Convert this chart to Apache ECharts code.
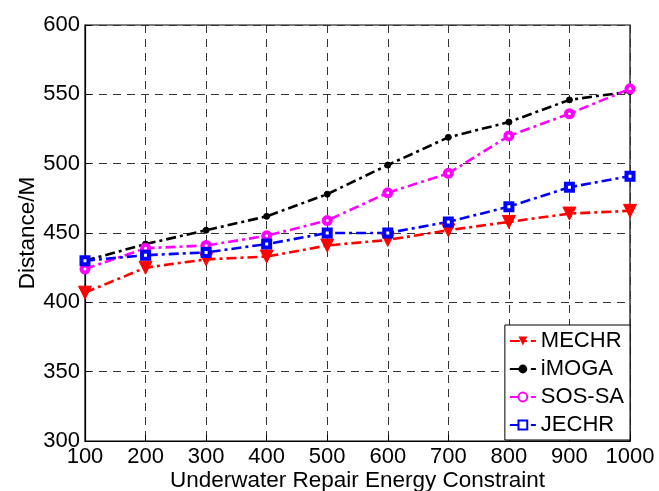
<!DOCTYPE html>
<html><head><meta charset="utf-8">
<script src="https://cdn.jsdelivr.net/npm/echarts@6/dist/echarts.min.js"></script>
<style>html,body{margin:0;padding:0;background:#fff}#c{width:659px;height:491px}</style>
</head><body><div id="c"></div>
<script>
const xValues = [100,200,300,400,500,600,700,800,900,1000];
const mechr = [407,425,431,433,441,445,452,458,464,466];
const imoga = [430,442,452,462,478,499,519,530,546,552];
const sossa = [424,439,441,448,459,479,493,520,536,554];
const jechr = [430,434,436,442,450,450,458,469,483,491];
const yTicks = {min:300, max:600, step:50};
const xTicks = {min:100, max:1000, step:100};

const font = 'Liberation Sans, Arial, sans-serif';
const pair = arr => arr.map((v,i)=>[xValues[i], v]);
const dashDot = [10,4,3,4];

function series(name, data, color, symbol, size, extra){
  return Object.assign({
    name, type:'line', data:pair(data), symbol, symbolSize:size,
    lineStyle:{color, width:2.6, type:dashDot},
    itemStyle:{color, borderColor:color},
    emphasis:{disabled:true}, animation:false, z:3
  }, extra||{});
}

const chart = echarts.init(document.getElementById('c'), null, {renderer:'canvas'});
chart.setOption({
  animation:false,
  backgroundColor:'#fff',
  grid:{left:85, right:29, top:25, bottom:50, containLabel:false, outerBoundsMode:'none', show:true, borderColor:'#000', borderWidth:1.2, backgroundColor:'transparent'},
  xAxis:{
    type:'value', min:xTicks.min, max:xTicks.max, interval:xTicks.step,
    name:'Underwater Repair Energy Constraint', nameLocation:'middle', nameGap:28, nameMoveOverlap:false,
    nameTextStyle:{fontFamily:font, fontSize:22.5, color:'#000'},
    axisLine:{show:true, lineStyle:{color:'#000', width:1.2}},
    axisTick:{show:true, inside:true, length:6, lineStyle:{color:'#000'}},
    axisLabel:{fontFamily:font, fontSize:22, color:'#000', margin:5, formatter:v=>String(v)},
    splitLine:{show:true, lineStyle:{color:'#333', type:[8,6], width:1}}
  },
  yAxis:{
    type:'value', min:yTicks.min, max:yTicks.max, interval:yTicks.step,
    name:'Distance/M', nameLocation:'middle', nameGap:46, nameMoveOverlap:false,
    nameTextStyle:{fontFamily:font, fontSize:22.5, color:'#000'},
    axisLine:{show:true, lineStyle:{color:'#000', width:1.2}},
    axisTick:{show:true, inside:true, length:6, lineStyle:{color:'#000'}},
    axisLabel:{fontFamily:font, fontSize:22, color:'#000', margin:5, formatter:v=>String(v)},
    splitLine:{show:true, lineStyle:{color:'#333', type:[8,6], width:1}}
  },
  legend:{
    orient:'vertical', right:29, bottom:51,
    backgroundColor:'#fff', borderColor:'#000', borderWidth:1,
    padding:[5,6,4,4], itemGap:6, itemWidth:26, itemHeight:11,
    textStyle:{fontFamily:font, fontSize:22, color:'#000', padding:[0,0,0,0]},
    data:['MECHR','iMOGA','SOS-SA','JECHR']
  },
  series:[
    series('MECHR', mechr, '#ff0000', 'triangle', 13, {symbolRotate:180}),
    series('iMOGA', imoga, '#000000', 'circle', 6),
    series('SOS-SA', sossa, '#ff00ff', 'circle', 7, {itemStyle:{color:'#fff', borderColor:'#ff00ff', borderWidth:4}}),
    series('JECHR', jechr, '#0000ff', 'rect', 7, {itemStyle:{color:'#fff', borderColor:'#0000ff', borderWidth:4}})
  ]
});
</script></body></html>
